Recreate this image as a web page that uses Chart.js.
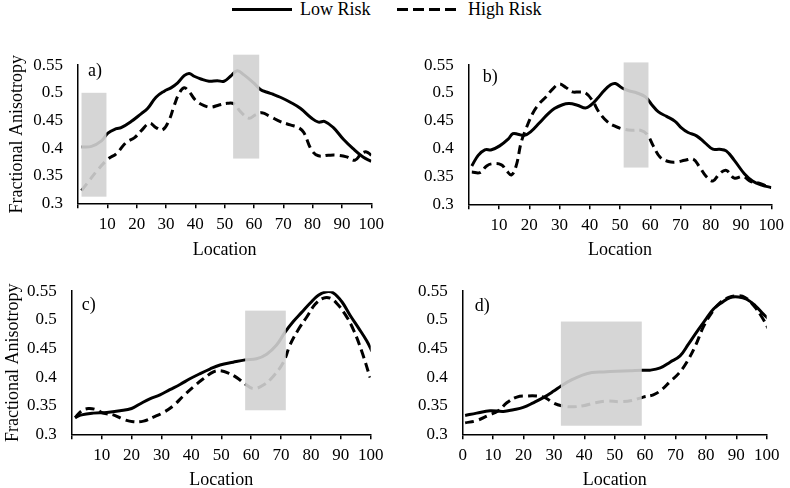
<!DOCTYPE html>
<html>
<head>
<meta charset="utf-8">
<script src="https://cdn.jsdelivr.net/npm/chart.js@4.4.0/dist/chart.umd.min.js"></script>
<style>
  body { margin: 0; width: 790px; height: 488px; overflow: hidden; background: #fff; position: relative;
         font-family: "Liberation Serif", serif; color: #000; }
  canvas { position: absolute; }
  .key { position: absolute; top: 8px; width: 60px; height: 3px; }
  .txt { position: absolute; top: -2px; font-size: 18px; line-height: 22px; }
</style>
</head>
<body>
<div class="key" style="left:232px;background:#000"></div>
<div class="txt" style="left:300px">Low Risk</div>
<div class="key" style="left:397px;background:repeating-linear-gradient(to right,#000 0 11px,transparent 11px 16px)"></div>
<div class="txt" style="left:468px">High Risk</div>
<canvas id="pa"></canvas>
<canvas id="pb"></canvas>
<canvas id="pc"></canvas>
<canvas id="pd"></canvas>
<script>
// tick labels
const xTicks = [0, 10, 20, 30, 40, 50, 60, 70, 80, 90, 100];
const yTicks = [0.3, 0.35, 0.4, 0.45, 0.5, 0.55];

// panel a) [location, FA]
const aLow = [[1.2,.402],[4.6,.403],[8,.413],[10.2,.427],[13.1,.435],[14.7,.437],[18.1,.448],[21.5,.462],[23.8,.472],[26.6,.492],[29.4,.503],[31.7,.509],[34,.518],[36.2,.531],[37.9,.535],[39.6,.530],[41.9,.525],[44.7,.521],[47.5,.522],[49.8,.521],[52,.530],[54.3,.540],[56.5,.533],[59.9,.518],[62.2,.506],[64.5,.501],[66.7,.497],[69,.492],[72.4,.483],[75.8,.472],[79.7,.454],[82,.447],[84.2,.448],[87.1,.437],[90.5,.416],[93.8,.399],[97.2,.384],[100,.376]];
const aHigh = [[1.2,.323],[3.4,.338],[6.8,.361],[10.2,.380],[13.1,.390],[16.4,.410],[19.3,.419],[21.5,.431],[24.4,.445],[26.6,.437],[28.9,.433],[31.1,.451],[32.8,.477],[34.5,.499],[36.2,.509],[37.9,.502],[40.2,.486],[43,.477],[45.3,.474],[48.1,.478],[50.9,.481],[53.2,.480],[55.4,.466],[58.3,.454],[60.5,.460],[62.7,.464],[65.6,.457],[69,.448],[72.4,.442],[75.2,.437],[77,.428],[79.7,.396],[82,.386],[85.4,.387],[88.2,.387],[91.6,.384],[94.4,.378],[96.7,.390],[98.4,.393],[100,.387]];
const aBoxes = [[1.2, 9.7, 0.312, 0.5], [52.9, 61.8, 0.381, 0.569]];

// panel b)
const bLow = [[1,.369],[3.1,.388],[5.3,.398],[7.5,.398],[10.2,.405],[13,.417],[14.6,.427],[16.2,.426],[18.4,.424],[20.6,.431],[23.3,.446],[26.1,.462],[28.3,.472],[31,.479],[33.2,.481],[35.9,.478],[38.6,.473],[40.3,.478],[42.5,.490],[44.7,.504],[46.9,.515],[48.5,.517],[50.7,.509],[52.9,.504],[55.6,.500],[58.4,.493],[60.5,.479],[62.7,.466],[65.4,.458],[68.2,.449],[70.4,.437],[72.5,.429],[75.3,.423],[78,.411],[80.7,.399],[82.9,.399],[85.1,.396],[87.8,.379],[91.1,.355],[93.8,.342],[96.6,.335],[100,.330]];
const bHigh = [[1,.358],[3.7,.357],[5.9,.369],[8,.373],[10.8,.371],[12.4,.361],[14.1,.353],[15.7,.370],[17.3,.411],[19,.437],[21.2,.464],[23.3,.481],[25.5,.493],[27.7,.507],[29.9,.516],[32.1,.510],[34.3,.502],[36.5,.502],[38.6,.500],[40.8,.487],[43,.466],[45.7,.449],[48.5,.440],[51.2,.435],[53.9,.433],[56.7,.433],[58.9,.426],[61,.405],[63.2,.385],[66,.377],[68.7,.376],[71.4,.379],[74.2,.381],[76.3,.367],[78.5,.350],[80.7,.342],[82.9,.355],[85.1,.361],[87.8,.347],[90.6,.350],[93.3,.341],[96,.338],[98.7,.332],[100,.330]];
const bBoxes = [[51.2, 59.4, 0.366, 0.555]];

// panel c)
const cLow = [[1.1,.329],[3.3,.334],[7.2,.337],[11.7,.338],[16.1,.341],[20,.345],[22.8,.353],[26.1,.362],[29.5,.369],[32.8,.378],[36.2,.387],[39.5,.397],[42.9,.406],[46.2,.414],[49.6,.421],[54,.426],[58,.430],[61.8,.432],[65.2,.440],[68.5,.456],[71.3,.478],[74.1,.497],[76.9,.513],[79.7,.529],[82.5,.543],[85.3,.549],[87.5,.547],[90.3,.532],[93.1,.508],[95.9,.486],[98.7,.463],[100.4,.445]];
const cHigh = [[1.1,.329],[3.3,.341],[5.5,.345],[8.3,.343],[10.5,.337],[13.9,.334],[17.3,.326],[20.6,.322],[24,.323],[27.3,.330],[30.6,.338],[34,.350],[37.3,.367],[40.7,.383],[44,.397],[47.4,.409],[49.6,.411],[52.4,.407],[55.2,.399],[58,.388],[60.8,.380],[64.1,.386],[67.5,.402],[70.8,.426],[73,.456],[75.8,.483],[78.6,.505],[81.4,.527],[84.2,.538],[86.4,.538],[88.6,.529],[91.4,.510],[94.2,.483],[97,.445],[99.8,.399]];
const cBoxes = [[58, 71.6, 0.342, 0.516]];

// panel d)
const dLow = [[0.8,.333],[4.6,.337],[9,.341],[13.4,.340],[16.7,.343],[19.9,.347],[23.2,.355],[26.5,.364],[29.8,.375],[32.5,.385],[35.8,.395],[39.2,.403],[42.5,.408],[46.3,.409],[50.7,.410],[55.1,.411],[58.9,.412],[61.6,.412],[65,.416],[68.2,.426],[71.5,.437],[74.2,.457],[77,.479],[79.7,.499],[82.5,.519],[85.2,.530],[88,.539],[90.7,.540],[93.4,.536],[96.2,.525],[98.9,.510],[100.5,.502]];
const dHigh = [[0.8,.320],[4.6,.324],[8.4,.333],[11.7,.341],[14.5,.355],[17.8,.365],[21.1,.367],[24.4,.367],[27.1,.364],[29.8,.355],[32.5,.350],[35.8,.348],[39.7,.350],[43.5,.355],[47.4,.358],[51.8,.357],[55.6,.359],[59.4,.365],[62.7,.369],[65.5,.378],[68.2,.392],[71,.406],[73.7,.426],[76.5,.454],[79.2,.488],[82,.513],[84.7,.530],[87.5,.539],[90.2,.542],[92.9,.539],[95.7,.525],[98.4,.505],[100.5,.485]];
const dBoxes = [[32.3, 58.9, 0.315, 0.497]];

Chart.defaults.font.family = '"Liberation Serif", "Times New Roman", serif';
Chart.defaults.color = '#000';

function panel(id, p) {
  const cv = document.getElementById(id);
  cv.width = p.w;
  cv.height = p.h;
  cv.style.left = p.left + 'px';
  cv.style.top = p.top + 'px';
  const xBottom = p.titleY + 10.8 + 4;

  // grey boxes over the curves, then the panel letter
  const overlay = {
    id: 'overlay',
    afterDatasetsDraw(chart) {
      const { ctx, scales: { x, y } } = chart;
      ctx.save();
      ctx.fillStyle = 'rgba(210,210,210,0.9)';
      p.boxes.forEach(([x1, x2, y1, y2]) => {
        const l = x.getPixelForValue(x1), r = x.getPixelForValue(x2);
        const t = y.getPixelForValue(y2), b = y.getPixelForValue(y1);
        ctx.fillRect(l, t, r - l, b - t);
      });
      ctx.restore();
    },
    afterDraw(chart) {
      const { ctx, chartArea } = chart;
      ctx.save();
      ctx.font = '18px "Liberation Serif", serif';
      ctx.fillStyle = '#000';
      ctx.textBaseline = 'middle';
      ctx.fillText(p.tag, chartArea.left + p.tagAt[0], chartArea.top + p.tagAt[1]);
      ctx.restore();
    }
  };

  new Chart(cv, {
    type: 'line',
    data: {
      datasets: [
        { label: 'Low Risk', data: p.low.map(([x, y]) => ({ x, y })), borderColor: '#000',
          borderWidth: 3, pointRadius: 0, tension: 0.4, fill: false },
        { label: 'High Risk', data: p.high.map(([x, y]) => ({ x, y })), borderColor: '#000',
          borderWidth: 3, borderDash: [9, 5], pointRadius: 0, tension: 0.4, fill: false }
      ]
    },
    options: {
      responsive: false,
      animation: false,
      events: [],
      layout: {
        padding: { left: 0, top: p.area.t - p.top, right: p.left + p.w - p.area.r, bottom: p.top + p.h - xBottom }
      },
      plugins: { legend: { display: false }, tooltip: { enabled: false } },
      scales: {
        x: {
          type: 'linear', min: 0, max: 100,
          afterBuildTicks: s => { s.ticks = xTicks.map(v => ({ value: v })); },
          afterFit: s => { s.height = xBottom - p.area.b; },
          ticks: { autoSkip: false, maxRotation: 0, padding: 6, font: { size: 17 },
                   callback: v => (v === 0 && !p.zero) ? '' : String(v) },
          grid: { drawOnChartArea: false, tickLength: 5, color: '#000', lineWidth: 1.5 },
          border: { color: '#000', width: 1.5 },
          title: { display: true, text: 'Location', font: { size: 18 }, padding: { top: 0, bottom: 4 } }
        },
        y: {
          min: 0.3, max: 0.55,
          afterBuildTicks: s => { s.ticks = yTicks.map(v => ({ value: v })); },
          afterFit: s => { s.width = p.area.l - p.left; },
          ticks: { padding: 15, font: { size: 17 }, callback: v => String(+v.toFixed(2)) },
          grid: { display: false, drawTicks: false },
          border: { color: '#000', width: 1.5 },
          title: { display: !!p.yTitle, text: 'Fractional Anisotropy', font: { size: 18 },
                   padding: { top: p.yTitle || 0, bottom: 0 } }
        }
      }
    },
    plugins: [overlay]
  });
}

panel('pa', { left: 0, top: 40, w: 390, h: 226, area: { l: 78, t: 60, r: 371.7, b: 203.3 }, titleY: 250,
  low: aLow, high: aHigh, boxes: aBoxes, tag: 'a)', tagAt: [10, 6], yTitle: 6 });
panel('pb', { left: 390, top: 40, w: 400, h: 226, area: { l: 468.8, t: 60.7, r: 774, b: 204.3 }, titleY: 250,
  low: bLow, high: bHigh, boxes: bBoxes, tag: 'b)', tagAt: [14, 12] });
panel('pc', { left: 0, top: 266, w: 390, h: 228, area: { l: 71.8, t: 280.7, r: 370.7, b: 434.3 }, titleY: 480,
  low: cLow, high: cHigh, boxes: cBoxes, tag: 'c)', tagAt: [10, 14], yTitle: 2 });
panel('pd', { left: 390, top: 266, w: 400, h: 228, area: { l: 462.7, t: 286.7, r: 766.7, b: 434.3 }, titleY: 480,
  low: dLow, high: dHigh, boxes: dBoxes, tag: 'd)', tagAt: [12, 15], zero: true });
</script>
</body>
</html>
